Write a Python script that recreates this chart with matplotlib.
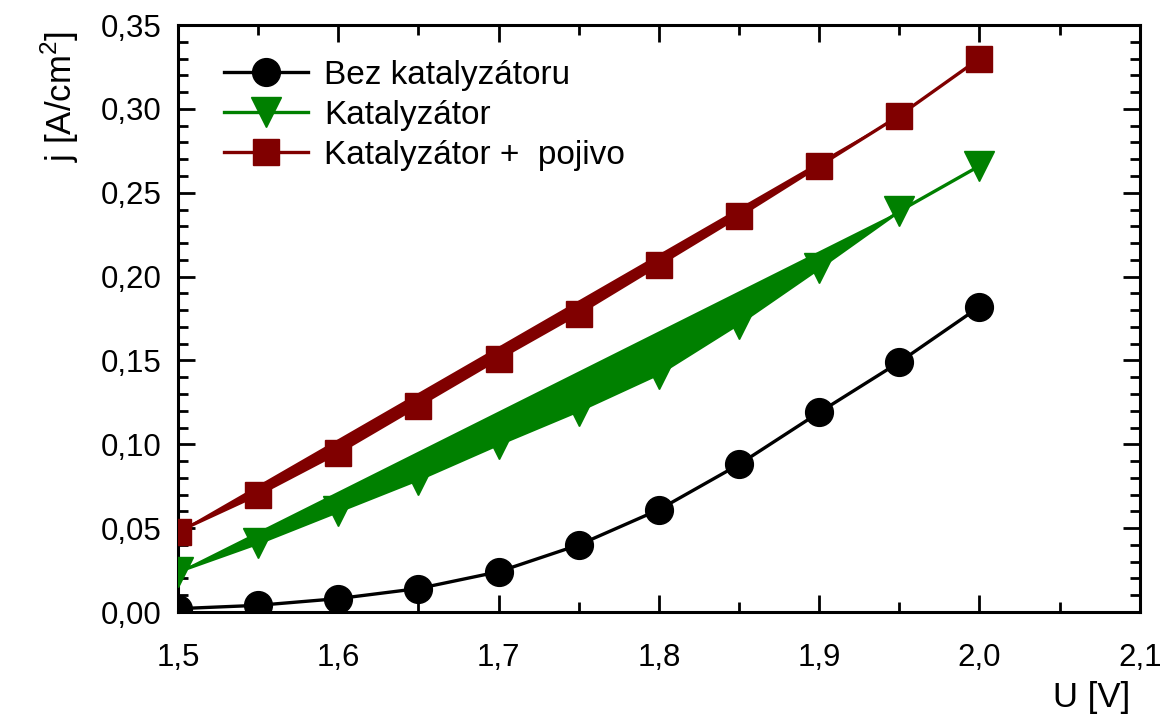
"""j-U curves for the three electrode variants."""
import matplotlib.pyplot as plt
from matplotlib.ticker import MultipleLocator, FuncFormatter

plt.rcParams["font.family"] = ["Liberation Sans", "DejaVu Sans"]

u = [1.5, 1.55, 1.6, 1.65, 1.7, 1.75, 1.8, 1.85, 1.9, 1.95, 2.0]
j_bez = [0.002, 0.004, 0.008, 0.014, 0.024, 0.040, 0.061, 0.088, 0.119, 0.149, 0.182]
j_kat = [0.024, 0.041, 0.060, 0.079, 0.100, 0.120, 0.142, 0.172, 0.205, 0.239, 0.266]
j_poj = [0.048, 0.070, 0.095, 0.123, 0.151, 0.178, 0.207, 0.236, 0.266, 0.296, 0.330]

labels = ["Bez katalyzátoru", "Katalyzátor", "Katalyzátor +  pojivo"]
green = "#008000"
red = "#800000"

fig = plt.figure(figsize=(11.63, 7.18), dpi=100)
ax = fig.add_axes([0.153, 0.1476, 0.827, 0.8175])

# the original export filled each curve as a closed polygon (up to the 1.95 V point)
ax.fill(u[:-1], j_kat[:-1], color=green, lw=0, zorder=2)
ax.fill(u[:-1], j_poj[:-1], color=red, lw=0, zorder=2)

ax.plot(u, j_bez, color="black", lw=2.4, marker="o", ms=20, label=labels[0], zorder=3)
ax.plot(u, j_kat, color=green, lw=2.4, marker="v", ms=21, label=labels[1], zorder=3)
ax.plot(u, j_poj, color=red, lw=2.4, marker="s", ms=19, label=labels[2], zorder=3)

ax.set_xlim(1.5, 2.1)
ax.set_ylim(0, 0.35)
ax.xaxis.set_major_locator(MultipleLocator(0.1))
ax.xaxis.set_minor_locator(MultipleLocator(0.05))
ax.yaxis.set_major_locator(MultipleLocator(0.05))
ax.yaxis.set_minor_locator(MultipleLocator(0.01))
ax.xaxis.set_major_formatter(FuncFormatter(lambda v, p: f"{v:.1f}".replace(".", ",")))
ax.yaxis.set_major_formatter(FuncFormatter(lambda v, p: f"{v:.2f}".replace(".", ",")))

ax.tick_params(which="both", direction="in", top=True, right=True, width=2, labelsize=22.5)
ax.tick_params(which="major", length=12)
ax.tick_params(which="minor", length=7)
ax.tick_params(axis="x", which="major", pad=22)
ax.tick_params(axis="y", which="major", pad=12)
for s in ax.spines.values():
    s.set_linewidth(2.2)

ax.set_xlabel("U [V]", fontsize=25, loc="right", labelpad=6)
ax.xaxis.label.set_position((0.99, 0))
ax.set_ylabel(r"j [A/cm$^\mathregular{2}$]", fontsize=25, loc="top", labelpad=14)
ax.yaxis.label.set_position((0, 0.99))

ax.legend(loc="upper left", bbox_to_anchor=(0.024, 0.98), frameon=False, fontsize=24,
          handlelength=2.5, handletextpad=0.5, labelspacing=0.27, borderaxespad=0.3)

fig.savefig("out.png", dpi=100)
plt.close(fig)
